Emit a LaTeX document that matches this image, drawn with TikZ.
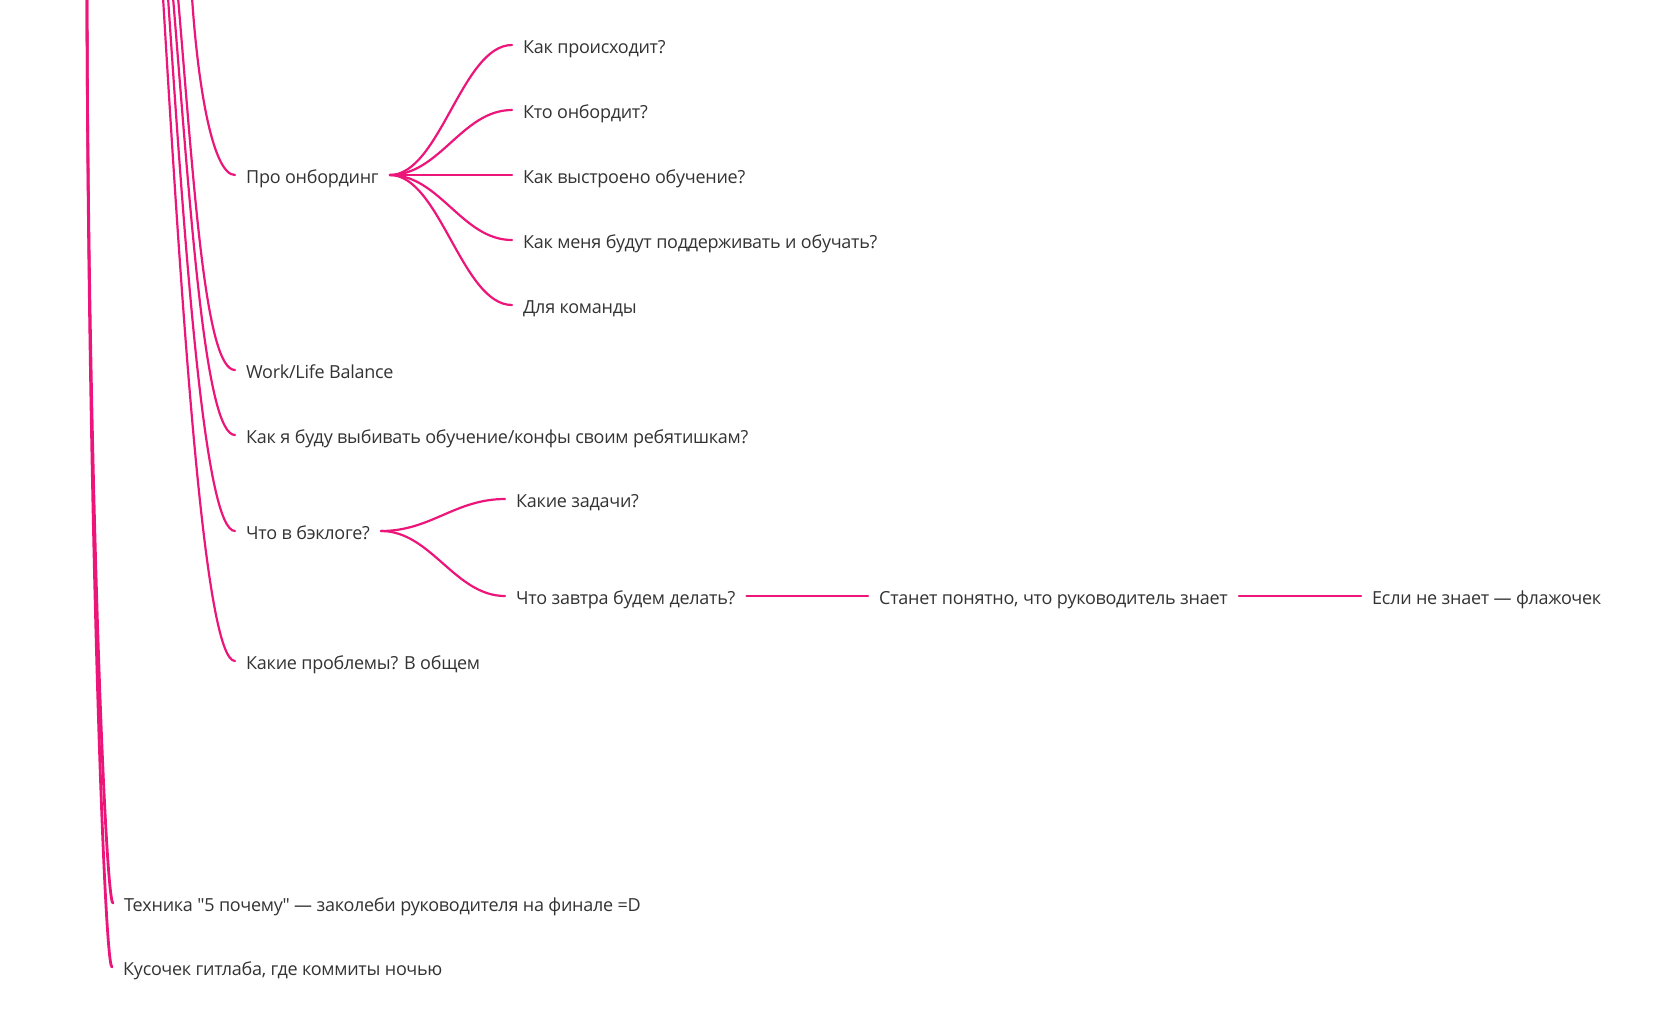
\documentclass[tikz,border=0pt]{standalone}
\usepackage{fontspec}
\setmainfont{Open Sans}[Ligatures=TeXOff, LetterSpace=-1.5]
\usetikzlibrary{calc}
\definecolor{brpink}{RGB}{236,22,122}
\definecolor{txtgray}{RGB}{51,51,51}
\tikzset{
  br/.style={draw=brpink, line width=2.2pt, line cap=round},
  trunk/.style={draw=brpink, line width=2.8pt, line cap=round},
  lbl/.style={anchor=west, inner xsep=11pt, inner ysep=0pt, text height=16pt, text depth=0pt,
    text=txtgray, font=\fontsize{18}{22}\selectfont},
}
\begin{document}
\begin{tikzpicture}[x=1pt,y=-1pt]
\useasboundingbox (0,0) rectangle (1671,1013);
\fill[white] (0,0) rectangle (1671,1013);
\clip (0,0) rectangle (1671,1013);

% top coordinates (parents off-canvas)
\coordinate (tL) at (87,-3);
\coordinate (t1) at (163,-3);
\coordinate (t2) at (168,-3);
\coordinate (t3) at (173,-3);
\coordinate (t4) at (178,-3);
\coordinate (t5) at (192,-3);

% level 2 nodes
\node[lbl] (onb) at (235,175) {Про онбординг};
\node[lbl] (wlb) at (235,370) {Work/Life Balance};
\node[lbl] (vyb) at (235,435) {Как я буду выбивать обучение/конфы своим ребятишкам?};
\node[lbl] (bkl) at (235,531) {Что в бэклоге?};
\node[lbl] (prb) at (235,661) {Какие проблемы? В общем};

% onboarding children
\node[lbl] (o1) at (512,45) {Как происходит?};
\node[lbl] (o2) at (512,110) {Кто онбордит?};
\node[lbl] (o3) at (512,175) {Как выстроено обучение?};
\node[lbl] (o4) at (512,240) {Как меня будут поддерживать и обучать?};
\node[lbl] (o5) at (512,305) {Для команды};

% backlog children
\node[lbl] (b1) at (505,499) {Какие задачи?};
\node[lbl] (b2) at (505,596) {Что завтра будем делать?};
\node[lbl] (st) at (868,596) {Станет понятно, что руководитель знает};
\node[lbl] (fl) at (1361,596) {Если не знает — флажочек};

% bottom nodes
\node[lbl] (tech) at (113,903) {Техника "5 почему" — заколеби руководителя на финале =D};
\node[lbl] (git) at (112,967) {Кусочек гитлаба, где коммиты ночью};

% trunk curves
\draw[trunk] (tL) .. controls ($(tL)+(1,454)$) and ($(tech.west)+(-8,0)$) .. (tech.west);
\draw[trunk] (tL) .. controls ($(tL)+(1,486)$) and ($(git.west)+(-8,0)$) .. (git.west);

% middle group curves
\draw[br] (t1) .. controls ($(t1)+(20,333)$) and ($(prb.west)+(-30,0)$) .. (prb.west);
\draw[br] (t2) .. controls ($(t2)+(18,268)$) and ($(bkl.west)+(-30,0)$) .. (bkl.west);
\draw[br] (t3) .. controls ($(t3)+(18,220)$) and ($(vyb.west)+(-30,0)$) .. (vyb.west);
\draw[br] (t4) .. controls ($(t4)+(16,188)$) and ($(wlb.west)+(-30,0)$) .. (wlb.west);
\draw[br] (t5) .. controls ($(t5)+(6,91)$) and ($(onb.west)+(-22,0)$) .. (onb.west);

% onboarding fan
\foreach \c in {o1,o2,o3,o4,o5}
  \draw[br] (onb.east) .. controls ($(onb.east)+(50,0)$) and ($(\c.west)+(-50,0)$) .. (\c.west);

% backlog fan
\foreach \c in {b1,b2}
  \draw[br] (bkl.east) .. controls ($(bkl.east)+(50,0)$) and ($(\c.west)+(-50,0)$) .. (\c.west);

\draw[br] (b2.east) -- (st.west);
\draw[br] (st.east) -- (fl.west);
\end{tikzpicture}
\end{document}
